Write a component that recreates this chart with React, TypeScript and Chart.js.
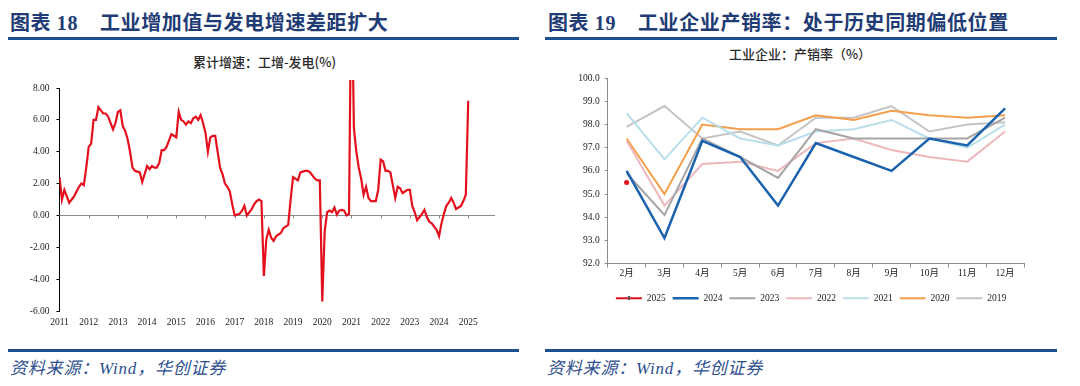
import React, { useEffect, useRef } from "react";
import { Chart, registerables } from "chart.js";

Chart.register(...registerables);

const SERIF = "'Liberation Serif', 'Times New Roman', 'Noto Sans CJK SC', serif";
const CJK = "'Liberation Serif', 'Noto Sans CJK SC', sans-serif";

const titleLeftNo = "图表 18";
const titleLeftText = "工业增加值与发电增速差距扩大";
const titleRightNo = "图表 19";
const titleRightText = "工业企业产销率：处于历史同期偏低位置";
const subtitleLeft = "累计增速：工增-发电(%)";
const subtitleRight = "工业企业：产销率（%）";
const sourceText = "资料来源：Wind，华创证券";

// Left chart: monthly categories 2011-01 .. 2025-12, year tick labels
const gapYears = ["2011", "2012", "2013", "2014", "2015", "2016", "2017", "2018", "2019", "2020", "2021", "2022", "2023", "2024", "2025"];
const monthNums = ["01", "02", "03", "04", "05", "06", "07", "08", "09", "10", "11", "12"];
const gapMonths = gapYears.flatMap((y) => monthNums.map((m) => `${y}-${m}`));

const gapValues = [
  // 2011
  2.4, 1.0, 1.6, 1.2, 0.8, 1.0, 1.2, 1.5, 1.8, 2.0, 1.9, 3.0,
  // 2012
  4.3, 4.5, 6.0, 6.0, 6.8, 6.6, 6.4, 6.4, 6.2, 5.8, 5.4, 5.8,
  // 2013
  6.5, 6.6, 5.6, 5.3, 4.8, 4.0, 3.0, 2.8, 2.75, 2.7, 2.1, 2.6,
  // 2014
  3.1, 2.9, 3.1, 3.0, 3.0, 3.3, 4.1, 4.1, 4.3, 4.7, 5.1, 5.0,
  // 2015
  4.9, 6.5, 6.0, 5.9, 5.7, 5.9, 5.8, 6.1, 6.2, 6.0, 6.3, 5.8,
  // 2016
  5.2, 4.0, 4.9, 5.0, 5.0, 4.0, 3.0, 2.6, 2.0, 1.8, 1.5, 0.7,
  // 2017
  0.0, 0.05, 0.1, 0.3, 0.6, 0.0, 0.2, 0.4, 0.7, 0.9, 1.0, 0.9,
  // 2018
  -3.8, -1.5, -0.9, -1.4, -1.6, -1.3, -1.2, -1.1, -0.8, -0.7, -0.6, 1.0,
  // 2019
  2.4, 2.3, 2.2, 2.7, 2.75, 2.8, 2.8, 2.7, 2.5, 2.3, 2.2, 2.2,
  // 2020
  -5.4, -1.0, 0.2, 0.3, 0.2, 0.5, 0.05, 0.3, 0.35, 0.3, 0.0, 0.1,
  // 2021
  16.0, 5.5, 4.0, 3.0, 2.3, 1.3, 1.8, 1.1, 0.9, 0.9, 0.9, 1.6,
  // 2022
  3.5, 3.4, 2.8, 2.8, 2.7, 1.9, 1.1, 1.8, 1.7, 1.4, 1.5, 1.6,
  // 2023
  1.6, 0.6, 0.2, -0.3, -0.1, 0.1, 0.35, -0.1, -0.4, -0.5, -0.7, -0.9,
  // 2024
  -1.3, -0.5, 0.1, 0.6, 0.8, 1.1, 0.8, 0.4, 0.5, 0.6, 0.9, 1.3,
  // 2025
  7.2,
];

// Right chart
const salesMonths = ["2月", "3月", "4月", "5月", "6月", "7月", "8月", "9月", "10月", "11月", "12月"];
const sales2025 = [95.5];
const sales2024 = [96.0, 93.1, 97.3, 96.6, 94.5, 97.2, 96.6, 96.0, 97.4, 97.1, 98.7];
const sales2023 = [95.9, 94.1, 97.4, 96.6, 95.7, 97.8, 97.4, 97.4, 97.4, 97.4, 98.3];
const sales2022 = [97.3, 94.5, 96.3, 96.4, 96.0, 97.2, 97.4, 96.9, 96.6, 96.4, 97.7];
const sales2021 = [98.5, 96.5, 98.3, 97.4, 97.1, 97.7, 97.8, 98.2, 97.4, 97.0, 98.0];
const sales2020 = [97.4, 95.0, 98.0, 97.8, 97.8, 98.4, 98.2, 98.6, 98.4, 98.3, 98.4];
const sales2019 = [97.9, 98.8, 97.4, 97.7, 97.1, 98.3, 98.3, 98.8, 97.7, 98.0, 98.1];

const salesSeries = [
  { label: "2025", data: sales2025, color: "#E3101D", width: 2 },
  { label: "2024", data: sales2024, color: "#1B63AE", width: 2.5 },
  { label: "2023", data: sales2023, color: "#A6A6A6", width: 2 },
  { label: "2022", data: sales2022, color: "#EDB8BC", width: 2 },
  { label: "2021", data: sales2021, color: "#B7DEEA", width: 2 },
  { label: "2020", data: sales2020, color: "#F4A04B", width: 2 },
  { label: "2019", data: sales2019, color: "#C4C4C4", width: 2 },
];

const zeroLinePlugin = {
  id: "zeroLine",
  beforeDatasetsDraw(chart: any) {
    const { ctx, chartArea, scales } = chart;
    const y = Math.round(scales.y.getPixelForValue(0)) + 0.5;
    ctx.save();
    ctx.strokeStyle = "#8a8a8a";
    ctx.lineWidth = 1;
    ctx.beginPath();
    ctx.moveTo(chartArea.left, y);
    ctx.lineTo(chartArea.right, y);
    gapMonths.forEach((lab, i) => {
      if (lab.endsWith("-01") && i > 0) {
        const x = Math.round(scales.x.getPixelForValue(i)) + 0.5;
        ctx.moveTo(x, y);
        ctx.lineTo(x, y + 3);
      }
    });
    ctx.stroke();
    ctx.restore();
  },
};

// marker on the 2025 legend line
const legendMarkerPlugin = {
  id: "legendMarker",
  afterDraw(chart: any) {
    const legend = chart.legend;
    if (!legend || !legend.legendHitBoxes || !legend.legendHitBoxes.length) return;
    const box = legend.legendHitBoxes[0];
    const { ctx } = chart;
    ctx.save();
    ctx.fillStyle = "#555";
    ctx.fillRect(Math.round(box.left + 13) - 1, Math.round(box.top + box.height / 2) - 2, 2, 4);
    ctx.restore();
  },
};

function LeftChart() {
  const ref = useRef<HTMLCanvasElement>(null);
  useEffect(() => {
    const chart = new Chart(ref.current!, {
      type: "line",
      data: {
        labels: gapMonths,
        datasets: [
          {
            data: gapValues,
            borderColor: "#E3101D",
            borderWidth: 2.2,
            pointRadius: 0,
            tension: 0,
            fill: false,
            clip: { left: 0, top: 8, right: 0, bottom: 0 } as any,
          },
        ],
      },
      options: {
        responsive: false,
        animation: false,
        devicePixelRatio: 1,
        layout: { padding: { top: 18, right: 25, left: 0, bottom: 0 } },
        plugins: { legend: { display: false }, tooltip: { enabled: false } },
        scales: {
          x: {
            type: "category",
            grid: { display: false, drawTicks: false, tickLength: 0 },
            border: { display: false },
            ticks: {
              autoSkip: false,
              maxRotation: 0,
              minRotation: 0,
              padding: 6,
              color: "#222",
              font: { family: SERIF, size: 9.5 },
              callback: (_v: any, i: number) => (gapMonths[i].endsWith("-01") ? gapMonths[i].slice(0, 4) : null),
            },
            afterFit: (s: any) => {
              s.height = 29;
            },
          },
          y: {
            min: -6,
            max: 8,
            ticks: {
              stepSize: 2,
              padding: 7,
              color: "#222",
              font: { family: SERIF, size: 9.5 },
              callback: (v: any) => Number(v).toFixed(2),
            },
            grid: { drawOnChartArea: false, tickLength: 3, color: "#000" },
            border: { color: "#000", width: 1 },
            afterFit: (s: any) => {
              s.width = 51.5;
            },
          },
        },
      },
      plugins: [zeroLinePlugin],
    });
    return () => chart.destroy();
  }, []);
  return (
    <canvas
      ref={ref}
      width={512}
      height={270}
      style={{ position: "absolute", left: 8, top: 70, width: 512, height: 270 }}
    />
  );
}

function RightChart() {
  const ref = useRef<HTMLCanvasElement>(null);
  useEffect(() => {
    const chart = new Chart(ref.current!, {
      type: "line",
      data: {
        labels: salesMonths,
        datasets: salesSeries.map((s) => ({
          label: s.label,
          data: s.data,
          borderColor: s.color,
          backgroundColor: s.color,
          borderWidth: s.width,
          pointRadius: s.label === "2025" ? 2.5 : 0,
          pointStyle: "circle",
          pointBackgroundColor: s.color,
          pointBorderWidth: 0,
          tension: 0,
          fill: false,
        })),
      },
      options: {
        responsive: false,
        animation: false,
        devicePixelRatio: 1,
        layout: { padding: { top: 12.3, right: 0, left: 0, bottom: 0 } },
        plugins: {
          tooltip: { enabled: false },
          legend: {
            display: true,
            position: "bottom",
            labels: {
              usePointStyle: true,
              pointStyle: "line",
              pointStyleWidth: 26,
              padding: 7,
              color: "#222",
              font: { family: SERIF, size: 9.5 },
              generateLabels: () =>
                salesSeries.map((s, i) => ({
                  text: s.label,
                  fillStyle: s.color,
                  strokeStyle: s.color,
                  lineWidth: s.width,
                  pointStyle: "line",
                  hidden: false,
                  datasetIndex: i,
                  fontColor: "#222",
                })) as any,
            },
          },
        },
        scales: {
          x: {
            type: "category",
            offset: true,
            grid: { display: true, drawOnChartArea: false, offset: true, tickLength: 4, color: "#8c8c8c" },
            border: { color: "#8c8c8c" },
            ticks: {
              padding: 0,
              color: "#222",
              font: { family: SERIF, size: 9.5 },
              maxRotation: 0,
            },
            afterFit: (s: any) => {
              s.height = 23;
            },
          },
          y: {
            min: 92,
            max: 100,
            ticks: {
              stepSize: 1,
              padding: 5,
              color: "#222",
              font: { family: SERIF, size: 9.5 },
              callback: (v: any) => Number(v).toFixed(1),
            },
            grid: { drawOnChartArea: false, tickLength: 3, color: "#8c8c8c" },
            border: { color: "#8c8c8c" },
            afterFit: (s: any) => {
              s.width = 62.7;
            },
          },
          yR: {
            position: "right",
            display: true,
            grid: { display: false },
            border: { display: false },
            ticks: { display: false },
            afterFit: (s: any) => {
              s.width = 53;
            },
          },
        },
      },
      plugins: [legendMarkerPlugin],
    });
    return () => chart.destroy();
  }, []);
  return (
    <canvas
      ref={ref}
      width={532}
      height={247}
      style={{ position: "absolute", left: 545, top: 66, width: 532, height: 247 }}
    />
  );
}

const blue = "#1F3C74";
const ruleBlue = "#1D4F8F";

function Text(props: { x: number; y: number; size: number; children: any; style?: any; center?: boolean }) {
  const { x, y, size, children, style, center } = props;
  return (
    <div
      style={{
        position: "absolute",
        left: center ? x - 300 : x,
        width: center ? 600 : undefined,
        textAlign: center ? "center" : "left",
        top: y - size / 2,
        height: size,
        lineHeight: `${size}px`,
        fontSize: size,
        whiteSpace: "nowrap",
        ...style,
      }}
    >
      {children}
    </div>
  );
}

export default function App() {
  useEffect(() => {
    document.body.style.margin = "0";
    document.body.style.background = "#fff";
  }, []);
  const titleStyle = { fontFamily: CJK, fontWeight: 700, color: blue, letterSpacing: "0.6px" };
  const subStyle = { fontFamily: "'Noto Sans CJK SC', sans-serif", fontWeight: 500, color: "#2a2a2a" };
  const srcStyle = { fontFamily: CJK, fontStyle: "italic", color: "#2E4F8E", letterSpacing: "0.8px" };
  return (
    <div style={{ position: "relative", width: 1080, height: 386, background: "#fff", overflow: "hidden" }}>
      <Text x={10} y={22.5} size={20} style={titleStyle}>{titleLeftNo}</Text>
      <Text x={100} y={22.5} size={20} style={titleStyle}>{titleLeftText}</Text>
      <Text x={548} y={22.5} size={20} style={titleStyle}>{titleRightNo}</Text>
      <Text x={638} y={22.5} size={20} style={titleStyle}>{titleRightText}</Text>
      <div style={{ position: "absolute", left: 8, top: 37, width: 511, height: 3, background: ruleBlue }} />
      <div style={{ position: "absolute", left: 545, top: 37, width: 512, height: 3, background: ruleBlue }} />
      <Text x={264.5} y={61} size={13} center style={subStyle}>{subtitleLeft}</Text>
      <Text x={800} y={53} size={13} center style={subStyle}>{subtitleRight}</Text>
      <LeftChart />
      <RightChart />
      <div style={{ position: "absolute", left: 8, top: 349, width: 511, height: 3, background: ruleBlue }} />
      <div style={{ position: "absolute", left: 545, top: 349, width: 512, height: 3, background: ruleBlue }} />
      <Text x={10} y={368} size={17} style={srcStyle}>{sourceText}</Text>
      <Text x={547} y={368} size={17} style={srcStyle}>{sourceText}</Text>
    </div>
  );
}
